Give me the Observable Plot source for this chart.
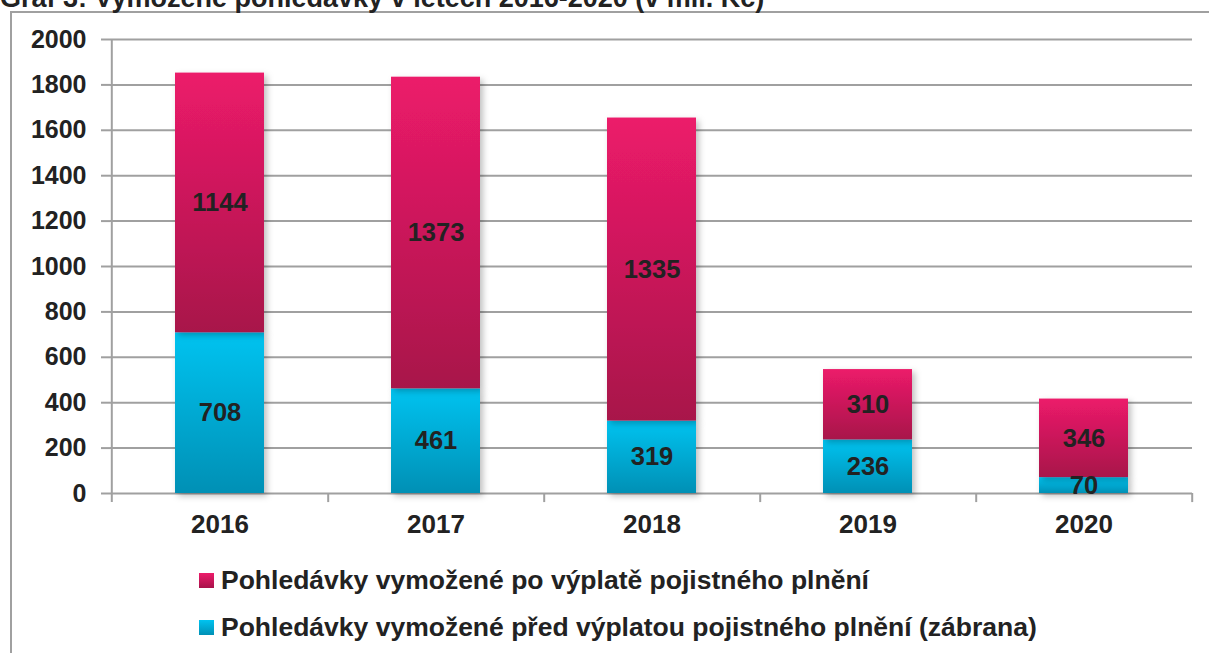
<!DOCTYPE html>
<html>
<head>
<meta charset="utf-8">
<script src="https://cdn.jsdelivr.net/npm/d3@7"></script>
<script src="https://cdn.jsdelivr.net/npm/@observablehq/plot@0.6"></script>
<style>
  body { margin: 0; background: #fff; }
  #wrap { position: relative; width: 1209px; height: 653px; overflow: hidden; font-family: "Liberation Sans", Arial, sans-serif; color: #222; }
  #frame { position: absolute; left: 10px; top: 11px; width: 1400px; height: 800px; border: 2px solid #a0a0a0; box-sizing: border-box; }
  #title { position: absolute; left: 0px; top: -17px; font-weight: bold; font-size: 27px; white-space: nowrap; color: #222; }
  #chart { position: absolute; left: 0; top: 0; }
  .leg { position: absolute; left: 199px; font-weight: bold; font-size: 26.5px; white-space: nowrap; display: flex; align-items: center; color: #222; }
  .sw { width: 15px; height: 15px; margin-right: 7px; }
</style>
</head>
<body>
<div id="wrap">
  <div id="frame"></div>
  <div id="title"></div>
  <div id="chart"></div>
  <div class="leg" id="leg1" style="top:565px"><div class="sw" style="background:linear-gradient(#ec1b6a,#a8124a)"></div><span></span></div>
  <div class="leg" id="leg2" style="top:612px"><div class="sw" style="background:linear-gradient(#00c3f0,#0090b5)"></div><span></span></div>
</div>
<script>
const titleText = "Graf 3: Vymožené pohledávky v letech 2016-2020 (v mil. Kč)";
const years = ["2016", "2017", "2018", "2019", "2020"];
const seriesNames = ["Pohledávky vymožené po výplatě pojistného plnění", "Pohledávky vymožené před výplatou pojistného plnění (zábrana)"];
const poVyplate = [1144, 1373, 1335, 310, 346];
const predVyplatou = [708, 461, 319, 236, 70];
const yTicks = [0, 200, 400, 600, 800, 1000, 1200, 1400, 1600, 1800, 2000];

document.getElementById("title").textContent = titleText;
document.querySelector("#leg1 span").textContent = seriesNames[0];
document.querySelector("#leg2 span").textContent = seriesNames[1];

const rows = years.map((y, i) => ({year: y, pred: predVyplatou[i], po: poVyplate[i]}));

const W = 1209, H = 545, ML = 110, MR = 17, MT = 39, MB = 52;
const step = (W - ML - MR) / years.length;
const grid = "#a0a0a0";

const defs = () => {
  const d = d3.create("svg:defs");
  const g1 = d.append("linearGradient").attr("id", "gM").attr("x1", 0).attr("y1", 0).attr("x2", 0).attr("y2", 1);
  g1.append("stop").attr("offset", "0%").attr("stop-color", "#ec1b6a");
  g1.append("stop").attr("offset", "100%").attr("stop-color", "#a8124a");
  const g2 = d.append("linearGradient").attr("id", "gC").attr("x1", 0).attr("y1", 0).attr("x2", 0).attr("y2", 1);
  g2.append("stop").attr("offset", "0%").attr("stop-color", "#00c3f0");
  g2.append("stop").attr("offset", "100%").attr("stop-color", "#0090b5");
  const f = d.append("filter").attr("id", "sh").attr("x", "-20%").attr("y", "-20%").attr("width", "140%").attr("height", "140%");
  f.append("feDropShadow").attr("dx", 3).attr("dy", 3).attr("stdDeviation", 3).attr("flood-color", "#000").attr("flood-opacity", 0.25);
  return d.node();
};

const chart = Plot.plot({
  width: W, height: H,
  marginLeft: ML, marginRight: MR, marginTop: MT, marginBottom: MB,
  style: {fontFamily: "'Liberation Sans', Arial, sans-serif", fontWeight: "bold", color: "#222", background: "transparent", overflow: "visible"},
  x: {domain: years, paddingInner: 0.59, paddingOuter: 0.295},
  y: {domain: [0, 2000]},
  marks: [
    defs,
    Plot.gridY(yTicks, {stroke: grid, strokeOpacity: 1, strokeWidth: 2}),
    Plot.ruleX([years[0]], {x: d => d, dx: -step / 2, y1: -40, y2: 2000, stroke: grid, strokeWidth: 2}),
    Plot.ruleX(years, {x: d => d, dx: step / 2, y1: -40, y2: 0, stroke: grid, strokeWidth: 2}),
    Plot.barY(rows, {x: "year", y1: 0, y2: "pred", fill: "url(#gC)"}),
    Plot.barY(rows, {x: "year", y1: "pred", y2: d => d.pred + d.po, fill: "url(#gM)"}),
    Plot.text(rows, {x: "year", y: d => d.pred / 2, text: d => String(d.pred), fontSize: 25.5, fontWeight: "bold", fill: "#222"}),
    Plot.text(rows, {x: "year", y: d => d.pred + d.po / 2, text: d => String(d.po), fontSize: 25.5, fontWeight: "bold", fill: "#222"}),
    Plot.axisY({ticks: yTicks, tickFormat: d => String(d), tickSize: 9, tickPadding: 15, stroke: grid, strokeWidth: 2, fontSize: 25, fill: "#222", label: null}),
    Plot.axisX({tickSize: 0, tickPadding: 21, fontSize: 26, fill: "#222", label: null})
  ]
});

chart.querySelectorAll('g[aria-label="bar"]').forEach(g => g.setAttribute("filter", "url(#sh)"));
document.getElementById("chart").appendChild(chart);
</script>
</body>
</html>
